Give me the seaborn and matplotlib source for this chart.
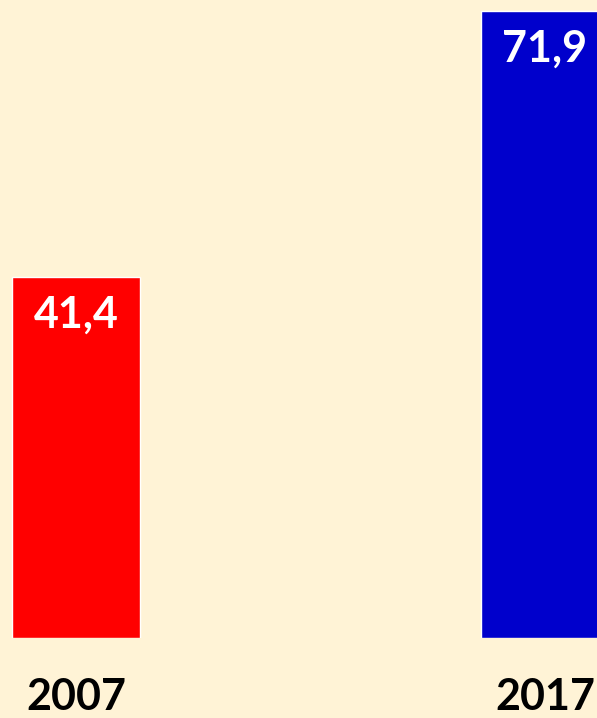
import matplotlib
matplotlib.use('Agg')
import matplotlib.pyplot as plt
import seaborn as sns

years = ['2007', '2017']
values = [41.4, 71.9]
value_labels = ['41,4', '71,9']
bar_colors = ['#FF0000', '#0000CC']
bg = '#FFF3D6'

sns.set_style('white')
plt.rcParams['font.family'] = ['Lato', 'DejaVu Sans']

fig = plt.figure(figsize=(5.97, 7.18), dpi=100, facecolor=bg)
ax = fig.add_axes([0, 80 / 718, 1, 638 / 718])
ax.set_facecolor(bg)

sns.barplot(x=years, y=values, hue=years, palette=bar_colors, width=128 / 469,
            legend=False, saturation=1, ax=ax)

ax.set_xlim(-76 / 469, 521 / 469)
ax.set_ylim(0, 638 / 8.72)

for i, (v, lab) in enumerate(zip(values, value_labels)):
    ax.annotate(lab, (i, v), xytext=(0, -13), textcoords='offset points',
                ha='center', va='top', color='white', fontsize=31, fontweight='bold')

ax.set_yticks([])
ax.tick_params(axis='x', length=0, pad=28, labelsize=31)
for t in ax.get_xticklabels():
    t.set_fontweight('bold')
    t.set_color('black')
ax.set_xlabel('')
ax.set_ylabel('')
sns.despine(ax=ax, left=True, bottom=True)

fig.savefig('out.png', dpi=100, facecolor=bg)
